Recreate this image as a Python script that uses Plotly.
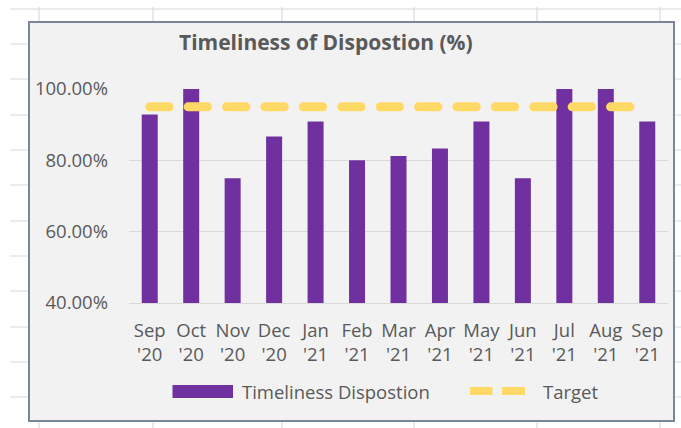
import plotly.graph_objects as go

# ---- data ----
months = ["Sep<br>'20", "Oct<br>'20", "Nov<br>'20", "Dec<br>'20", "Jan<br>'21", "Feb<br>'21",
          "Mar<br>'21", "Apr<br>'21", "May<br>'21", "Jun<br>'21", "Jul<br>'21", "Aug<br>'21", "Sep<br>'21"]
timeliness = [92.86, 100.0, 75.0, 86.67, 90.91, 80.0, 81.25, 83.33, 90.91, 75.0, 100.0, 100.0, 90.91]
target = [95, 95, 95, 95, 95, 95, 95, 95, 95, 95, 95, 95, 95]
y_ticks = [40, 60, 80, 100]
y_tick_labels = ["40.00%", "60.00%", "80.00%", "100.00%"]
title_text = "Timeliness of Dispostion (%)"
legend_names = ["Timeliness Dispostion", "Target"]

# ---- layout constants ----
W, H = 681, 428
ML, MR, MT, MB = 129, 13, 89, 125
PW, PH = W - ML - MR, H - MT - MB
FONT = "Open Sans"
GRAY_TXT = "#595959"
PURPLE = "#7030A0"
GOLD = "#FFD966"


def px(x):
    return (x - ML) / PW


def py(y):
    return (H - MB - y) / PH


fig = go.Figure()
fig.add_trace(go.Bar(x=months, y=timeliness, name=legend_names[0],
                     marker=dict(color=PURPLE, line=dict(width=0)), showlegend=False))
fig.add_trace(go.Scatter(x=months, y=target, name=legend_names[1], mode="lines",
                         line=dict(color=GOLD, width=9, dash="19.4px,19px"), showlegend=False))

shapes = []
# spreadsheet grid behind the chart
for yy in [9, 44, 79, 115, 150, 185, 221, 256, 291, 327, 362, 397]:
    shapes.append(dict(type="line", xref="paper", yref="paper", x0=px(10), x1=px(681),
                       y0=py(yy), y1=py(yy), line=dict(color="#DADADA", width=1.2), layer="below"))
for xx in [39, 153, 282, 414, 537, 660]:
    shapes.append(dict(type="line", xref="paper", yref="paper", x0=px(xx), x1=px(xx),
                       y0=py(7), y1=py(428), line=dict(color="#DADADA", width=1.2), layer="below"))
# chart area
shapes.append(dict(type="rect", xref="paper", yref="paper", x0=px(29), x1=px(674),
                   y0=py(421), y1=py(22), fillcolor="#F2F2F2",
                   line=dict(color="#7A8797", width=2), layer="below"))
# legend symbols
shapes.append(dict(type="rect", xref="paper", yref="paper", x0=px(172.5), x1=px(233),
                   y0=py(398), y1=py(385), fillcolor=PURPLE, line=dict(width=0), layer="above"))
for a, b in [(470, 492.5), (502, 525)]:
    shapes.append(dict(type="line", xref="paper", yref="paper", x0=px(a), x1=px(b),
                       y0=py(391), y1=py(391), line=dict(color=GOLD, width=8), layer="above"))

annotations = [
    dict(text="<b>" + title_text + "</b>", xref="paper", yref="paper", x=px(325.5), y=py(42),
         xanchor="center", yanchor="middle", showarrow=False,
         font=dict(family=FONT, size=21, color=GRAY_TXT)),
    dict(text=legend_names[0], xref="paper", yref="paper", x=px(239.5), y=py(391.5),
         xanchor="left", yanchor="middle", showarrow=False,
         font=dict(family=FONT, size=18.5, color=GRAY_TXT)),
    dict(text=legend_names[1], xref="paper", yref="paper", x=px(540.5), y=py(391.5),
         xanchor="left", yanchor="middle", showarrow=False,
         font=dict(family=FONT, size=18.5, color=GRAY_TXT)),
]

fig.update_layout(
    width=W, height=H,
    margin=dict(l=ML, r=MR, t=MT, b=MB, pad=0),
    paper_bgcolor="white", plot_bgcolor="rgba(0,0,0,0)",
    bargap=0.614,
    showlegend=False,
    shapes=shapes, annotations=annotations,
    font=dict(family=FONT, size=18.5, color=GRAY_TXT),
)
fig.update_xaxes(type="category", showgrid=False, showline=True, linecolor="#D9D9D9", linewidth=1,
                 ticks="", tickfont=dict(family=FONT, size=18.5, color=GRAY_TXT),
                 ticklabelstandoff=11)
fig.update_yaxes(range=[40, 100], tickvals=y_ticks, ticktext=y_tick_labels,
                 showgrid=True, gridcolor="#D9D9D9", gridwidth=1, zeroline=False, showline=False,
                 ticks="", ticklabelstandoff=20, tickfont=dict(family=FONT, size=18.5, color=GRAY_TXT))

post = ("document.body.style.margin='0';document.body.style.padding='0';"
        "var gd=document.getElementById('{plot_id}');"
        "gd.querySelectorAll('.scatterlayer .js-line').forEach(function(p){p.style.strokeLinecap='round';});")
fig.write_html("out.html", post_script=post, config={"displayModeBar": False})
